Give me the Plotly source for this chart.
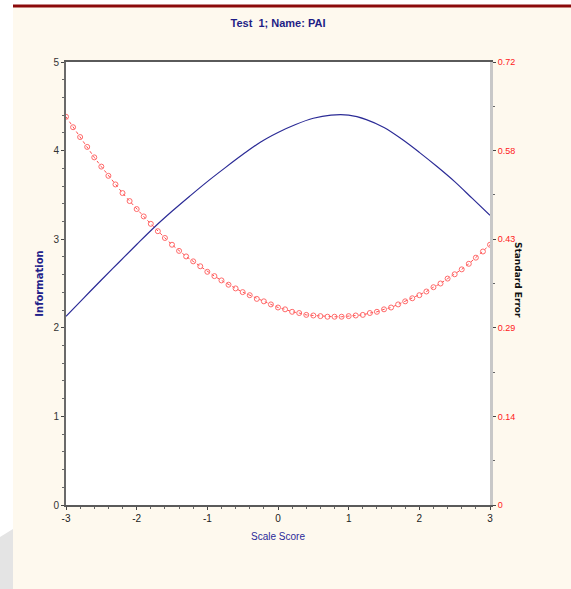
import plotly.graph_objects as go

# Scale score grid for the information curve (step 0.25)
theta_info = [-3.0, -2.75, -2.5, -2.25, -2.0, -1.75, -1.5, -1.25, -1.0, -0.75, -0.5, -0.25,
              0.0, 0.25, 0.5, 0.75, 1.0, 1.25, 1.5, 1.75, 2.0, 2.25, 2.5, 2.75, 3.0]
information = [2.13, 2.335, 2.54, 2.74, 2.94, 3.135, 3.315, 3.485, 3.65, 3.805, 3.955, 4.095,
               4.205, 4.295, 4.365, 4.40, 4.40, 4.35, 4.26, 4.13, 3.98, 3.82, 3.65, 3.46, 3.27]

# Scale score grid for the standard error curve (step 0.1)
theta_se = [-3.0, -2.9, -2.8, -2.7, -2.6, -2.5, -2.4, -2.3, -2.2, -2.1,
            -2.0, -1.9, -1.8, -1.7, -1.6, -1.5, -1.4, -1.3, -1.2, -1.1,
            -1.0, -0.9, -0.8, -0.7, -0.6, -0.5, -0.4, -0.3, -0.2, -0.1,
            0.0, 0.1, 0.2, 0.3, 0.4, 0.5, 0.6, 0.7, 0.8, 0.9,
            1.0, 1.1, 1.2, 1.3, 1.4, 1.5, 1.6, 1.7, 1.8, 1.9,
            2.0, 2.1, 2.2, 2.3, 2.4, 2.5, 2.6, 2.7, 2.8, 2.9, 3.0]
std_error = [0.631, 0.614, 0.598, 0.582, 0.565, 0.550, 0.535, 0.521, 0.507, 0.494,
             0.481, 0.469, 0.457, 0.445, 0.434, 0.423, 0.413, 0.404, 0.396, 0.388,
             0.379, 0.372, 0.365, 0.358, 0.352, 0.346, 0.341, 0.335, 0.331, 0.326,
             0.321, 0.318, 0.314, 0.312, 0.309, 0.308, 0.307, 0.306, 0.306, 0.306,
             0.307, 0.308, 0.309, 0.312, 0.314, 0.318, 0.321, 0.326, 0.331, 0.336,
             0.341, 0.347, 0.354, 0.360, 0.368, 0.375, 0.383, 0.392, 0.402, 0.412, 0.423]

x_tickvals = [-3, -2, -1, 0, 1, 2, 3]
x_ticktext = ["-3", "-2", "-1", "0", "1", "2", "3"]
info_ticks = [0, 1, 2, 3, 4, 5]
se_tickvals = [0, 0.144, 0.288, 0.432, 0.576, 0.72]
se_ticktext = ["0", "0.14", "0.29", "0.43", "0.58", "0.72"]

SANS = "Liberation Sans, Arial, sans-serif"
CREAM = "#fef9ee"

fig = go.Figure()
fig.add_trace(go.Scatter(x=theta_info, y=information, mode="lines", line_shape="spline",
                         line=dict(color="#2b2b96", width=1.2), yaxis="y", showlegend=False))
fig.add_trace(go.Scatter(x=theta_se, y=std_error, mode="lines+markers",
                         line=dict(color="#ff5050", width=1, dash="dot"),
                         marker=dict(symbol="circle-open", size=5, color="#ff6a6a", line=dict(width=1)),
                         yaxis="y2", showlegend=False))

fig.update_layout(
    width=571, height=589,
    margin=dict(l=66, r=81, t=62, b=84),
    paper_bgcolor=CREAM, plot_bgcolor="white",
    title=dict(text="Test  1; Name: PAI", x=0.5, xref="paper", y=1 - 23 / 589, yanchor="middle",
               font=dict(family=SANS, size=11, color="#1e1e86", weight="bold")),
    xaxis=dict(range=[-3, 3], tickvals=x_tickvals, ticktext=x_ticktext, ticks="outside", ticklen=3,
               tickcolor="#444",
               showline=True, linecolor="#5a5a5a", linewidth=2, mirror=True,
               showgrid=False, zeroline=False,
               minor=dict(dtick=0.2, ticks="outside", ticklen=2, tickcolor="#666"),
               tickfont=dict(family=SANS, size=10, color="#222"),
               title=dict(text="Scale Score", standoff=10,
                          font=dict(family=SANS, size=10, color="#2a2a9a"))),
    yaxis=dict(range=[0, 5], tickvals=info_ticks, ticks="outside", ticklen=3, tickcolor="#444",
               showline=True, linecolor="#6a6a6a", linewidth=2,
               showgrid=False, zeroline=False,
               minor=dict(dtick=0.2, ticks="outside", ticklen=2, tickcolor="#666"),
               tickfont=dict(family=SANS, size=10, color="#333"),
               title=dict(text="Information", standoff=8,
                          font=dict(family="DejaVu Sans", size=10, color="#22228a", weight="bold"))),
    yaxis2=dict(range=[0, 0.72], overlaying="y", side="right", tickvals=se_tickvals,
                ticktext=se_ticktext, ticks="outside", ticklen=3, tickcolor="#444",
                showline=True, linecolor="#c8c8c8", linewidth=3,
                showgrid=False, zeroline=False,
                minor=dict(dtick=0.072, ticks="outside", ticklen=2, tickcolor="#666"),
                tickfont=dict(family=SANS, size=9, color="#ff2020")),
)

# Right axis title (reads top to bottom)
fig.add_annotation(text="Standard Error", xref="paper", yref="paper",
                   x=(518 - 66) / 424, y=(505 - 280) / 443, xanchor="center", yanchor="middle",
                   showarrow=False, textangle=90,
                   font=dict(family="DejaVu Sans", size=9, color="#111", weight="bold"))

# Page decoration: white strip on the left, dark red rule at top, grey wedge at bottom left
pw, ph = 424.0, 443.0
def px(xp):
    return (xp - 66) / pw
def py(yp):
    return (505 - yp) / ph

fig.add_shape(type="rect", xref="paper", yref="paper", x0=px(0), x1=px(13), y0=py(589), y1=py(0),
              fillcolor="white", line=dict(width=0), layer="below")
fig.add_shape(type="rect", xref="paper", yref="paper", x0=px(0), x1=px(571), y0=py(5), y1=py(0),
              fillcolor="white", line=dict(width=0), layer="below")
fig.add_shape(type="path", xref="paper", yref="paper",
              path=f"M {px(0)},{py(537)} L {px(13)},{py(529)} L {px(13)},{py(589)} L {px(0)},{py(589)} Z",
              fillcolor="#e4e4e4", line=dict(width=0), layer="below")
fig.add_shape(type="line", xref="paper", yref="paper", x0=px(13), x1=px(571), y0=py(6), y1=py(6),
              line=dict(color="#8b0a0a", width=3))

post = """
document.body.style.margin = '0';
document.body.style.overflow = 'hidden';
"""
fig.write_html("out.html", post_script=post, config={"displayModeBar": False})
